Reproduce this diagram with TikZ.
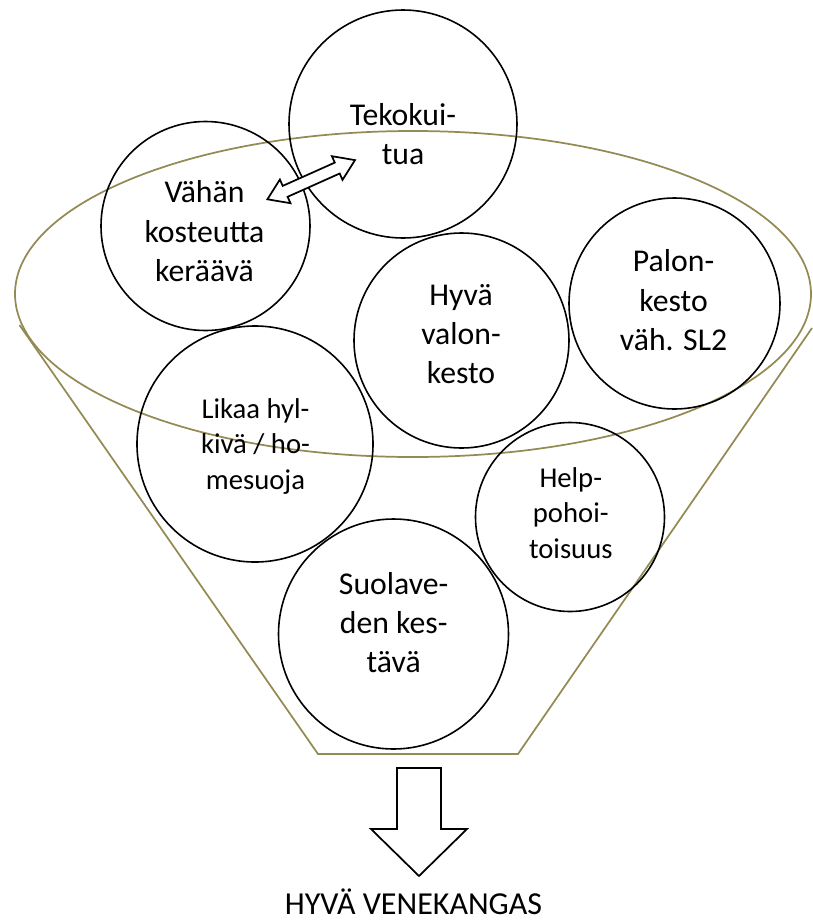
\documentclass[tikz,border=0pt]{standalone}
\usepackage{fontspec}
\setmainfont{Carlito}
\usetikzlibrary{shapes.geometric}
\definecolor{funnelcol}{RGB}{148,138,84}
\newcommand{\bubtext}[1]{\begin{tabular}[t]{@{}c@{}}#1\end{tabular}}
\begin{document}
\begin{tikzpicture}[x=0.75pt,y=-0.75pt,
  bubble/.style={circle,draw=black,line width=1.2pt,inner sep=0pt,outer sep=0pt,minimum size={#1*1.5pt}},
  rimstyle/.style={ellipse,draw=funnelcol,line width=1.3pt,inner sep=0pt,outer sep=0pt},
  funnelline/.style={draw=funnelcol,line width=1.3pt,line join=miter},
  bigtxt/.style={anchor=base,inner sep=0pt,outer sep=0pt,font=\fontsize{23.8pt}{29.5pt}\selectfont},
  smalltxt/.style={anchor=base,inner sep=0pt,outer sep=0pt,font=\fontsize{21.5pt}{26.6pt}\selectfont},
  resulttxt/.style={anchor=base,inner sep=0pt,outer sep=0pt,font=\fontsize{24pt}{28pt}\selectfont},
  blockarrow/.style={draw=black,line width=1.3pt,fill=white,line join=miter}]
\useasboundingbox (0,0) rectangle (813,922);

% funnel
\node[rimstyle,minimum width={796*0.75pt},minimum height={326*0.75pt}] (rim) at (413,294) {};
\draw[funnelline] (19.5,325) -- (318,754) -- (518,754) -- (812,328);

% bubbles
\node[bubble=114] (teko) at (403,124) {};
\node[bigtxt] (tekotxt) at (403,125) {\bubtext{Tekokui-\\tua}};

\node[bubble=104.5] (vahan) at (205.5,226) {};
\node[bigtxt] (vahantxt) at (204.5,202.7) {\bubtext{Vähän\\kosteutta\\keräävä}};

\node[bubble=107.5] (hyva) at (461.5,340.5) {};
\node[bigtxt] (hyvatxt) at (461,305) {\bubtext{Hyvä\\valon-\\kesto}};

\node[bubble=105.5] (palon) at (674.5,303.5) {};
\node[bigtxt] (palontxt) at (673.6,271.7) {\bubtext{Palon-\\kesto\\väh. SL2}};

\node[bubble=118] (likaa) at (255,444) {};
\node[smalltxt] (likaatxt) at (255.5,418.3) {\bubtext{Likaa hyl-\\kivä / ho-\\mesuoja}};

\node[bubble=94.5] (help) at (570,517) {};
\node[smalltxt] (helptxt) at (570.8,487.3) {\bubtext{Help-\\pohoi-\\toisuus}};

\node[bubble=115] (suola) at (393.5,634) {};
\node[bigtxt] (suolatxt) at (393.7,594) {\bubtext{Suolave-\\den kes-\\tävä}};

% double block arrow between Vähän and Tekokuitua
\draw[blockarrow] (355.0,160.1) -- (331.9,156.2) -- (334.8,162.6) -- (282.7,185.9)
  -- (279.9,179.5) -- (267.4,199.3) -- (290.5,203.2) -- (287.6,196.8)
  -- (339.7,173.5) -- (342.5,179.9) -- cycle;

% down block arrow
\draw[blockarrow] (397,768) -- (441,768) -- (441,829) -- (467,829) -- (419,876)
  -- (371,829) -- (397,829) -- cycle;

\node[resulttxt] (result) at (413.5,914) {HYVÄ VENEKANGAS};
\end{tikzpicture}
\end{document}
